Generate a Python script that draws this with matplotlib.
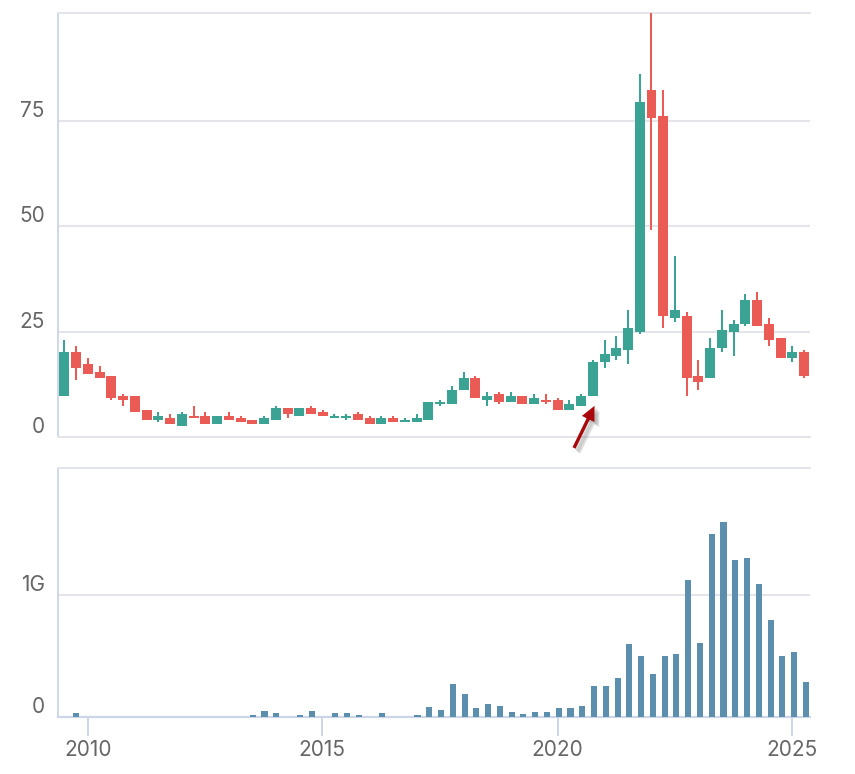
import matplotlib
matplotlib.use("Agg")
import matplotlib.pyplot as plt
import matplotlib.patheffects as pe
from matplotlib.transforms import ScaledTranslation
import numpy as np

plt.rcParams['font.family'] = ['Inter', 'DejaVu Sans']

opens = [9.8,20.2,17.3,15.4,14.5,9.7,9.7,6.4,4.0,4.5,2.6,5.0,5.0,3.1,5.0,4.5,4.0,3.1,4.0,6.9,5.0,6.9,6.0,4.5,4.5,5.5,4.5,3.1,4.5,3.6,3.6,4.0,7.8,7.8,11.2,14.0,8.8,10.2,8.3,9.7,7.8,8.8,8.8,6.4,7.4,9.7,17.8,19.2,20.7,24.9,82.4,76.2,28.3,28.7,14.5,14.0,21.1,24.9,26.8,32.5,26.8,23.5,18.8,20.2]
closes = [20.2,16.5,15.0,14.0,9.3,8.8,6.0,4.0,5.0,3.1,5.5,4.5,3.1,5.0,4.0,3.6,3.1,4.5,6.9,5.5,6.9,5.5,5.0,5.0,5.0,4.0,3.1,4.5,3.6,4.0,4.5,8.3,8.3,11.2,14.0,9.3,9.7,8.3,9.7,7.8,9.3,8.3,6.4,7.8,9.7,17.8,19.7,21.1,25.9,79.6,75.8,28.7,30.2,14.0,13.1,21.1,25.4,26.8,32.5,26.4,23.0,18.8,20.2,14.5]
highs = [23.0,21.6,18.8,16.9,14.5,10.2,9.7,6.4,5.9,5.5,5.9,7.4,5.9,5.0,5.9,5.0,4.0,5.0,7.4,6.9,6.9,7.4,6.4,5.5,5.5,5.9,5.0,5.0,5.0,4.5,5.5,8.3,8.8,12.1,15.4,14.5,10.7,10.7,10.7,9.7,10.2,10.2,9.3,8.8,10.2,18.3,23.0,24.0,30.2,86.2,106.0,82.4,43.0,29.7,18.3,23.5,30.2,27.8,34.0,34.4,28.3,23.5,21.6,20.7]
lows = [9.8,13.5,15.0,14.0,8.8,7.4,6.0,4.0,3.6,3.1,2.6,5.0,3.1,3.1,4.0,3.6,3.1,3.1,4.0,4.5,5.0,5.5,5.0,4.5,4.0,4.0,3.1,3.1,3.6,3.6,3.6,4.0,7.4,7.8,11.2,9.3,7.4,7.8,8.3,7.8,7.8,7.8,6.4,6.4,7.4,9.7,16.4,18.3,17.3,24.5,49.2,25.9,27.3,9.7,11.2,14.0,20.2,19.2,26.4,26.4,21.6,18.8,17.8,14.0]
volumes = [0,0.033,0,0,0,0,0,0,0,0,0,0,0,0,0,0,0.016,0.05,0.033,0,0.016,0.05,0,0.033,0.033,0.016,0,0.033,0,0,0.016,0.082,0.055,0.27,0.186,0.07,0.104,0.088,0.04,0.022,0.04,0.04,0.07,0.07,0.088,0.25,0.25,0.32,0.60,0.50,0.35,0.50,0.515,1.12,0.61,1.50,1.60,1.29,1.30,1.09,0.795,0.50,0.53,0.285]
year_ticks = [2.0, 21.9, 41.9, 61.8]
year_labels = ['2010', '2015', '2020', '2025']
price_ticks = [0, 25, 50, 75]
price_labels = ['0', '25', '50', '75']
volume_ticks = [0, 1]
volume_labels = ['0', '1G']

GREEN, RED, BLUE = '#3aa394', '#ea5b55', '#5c8eae'
GRID, AXIS, TEXT = '#e3e5ea', '#ccd6e6', '#666666'
W, H = 855, 774
x = np.arange(len(opens))

fig = plt.figure(figsize=(W / 100, H / 100), dpi=100, facecolor='white')
def make_axes(top, bottom):
    return fig.add_axes([58 / W, 1 - bottom / H, (810 - 58) / W, (bottom - top) / H])
ax1 = make_axes(13, 437)
ax2 = make_axes(468, 717)

colors = [GREEN if c >= o else RED for o, c in zip(opens, closes)]
ax1.vlines(x, lows, highs, colors=colors, linewidth=1.45, zorder=3)
ax1.bar(x, np.abs(np.array(closes) - np.array(opens)), bottom=np.minimum(opens, closes),
        width=0.85, color=colors, linewidth=0, zorder=4)
ax1.set_xlim(-0.55, 63.5)
ax1.set_ylim(0, 100.7)
ax1.set_yticks(price_ticks, price_labels)

ax2.bar(x, volumes, width=0.52, color=BLUE, linewidth=0, zorder=3)
ax2.set_xlim(-0.55, 63.35)
ax2.set_ylim(0, 2.04)
ax2.set_yticks(volume_ticks, volume_labels)

for ax in (ax1, ax2):
    ax.grid(axis='y', color=GRID, linewidth=1.45, zorder=0)
    ax.set_axisbelow(True)
    ax.tick_params(axis='y', length=0, pad=9.5, labelsize=15, labelcolor=TEXT)
    for lab in ax.get_yticklabels():
        lab.set_transform(lab.get_transform() + ScaledTranslation(0, 12 / 100, fig.dpi_scale_trans))
    ax.spines['right'].set_visible(False)
    ax.spines['top'].set_color(GRID)
    ax.spines['top'].set_linewidth(1.45)
    ax.spines['left'].set_color(AXIS)
    ax.spines['left'].set_linewidth(1.3)

ax1.spines['bottom'].set_color(GRID)
ax1.spines['bottom'].set_linewidth(1.45)
ax1.set_xticks([])
ax2.spines['bottom'].set_color(AXIS)
ax2.spines['bottom'].set_linewidth(1.6)
ax2.set_xticks(year_ticks, year_labels)
ax2.tick_params(axis='x', length=13.7, width=1.45, color=AXIS, pad=3, labelsize=15, labelcolor=TEXT)

shadow = [pe.SimplePatchShadow(offset=(d, -d), shadow_rgbFace='#777777', alpha=0.22) for d in (1.5, 2.5, 3.5)]
ax1.annotate('', xy=(45.15, 7.4), xytext=(43.4, -2.6), annotation_clip=False,
             arrowprops=dict(arrowstyle='simple,head_length=1.05,head_width=1.0,tail_width=0.24',
                             mutation_scale=10, color='#a8070c', linewidth=0, shrinkA=0, shrinkB=0,
                             clip_on=False, path_effects=shadow + [pe.Normal()]),
             zorder=6)

fig.savefig('out.png', dpi=100, facecolor='white')
